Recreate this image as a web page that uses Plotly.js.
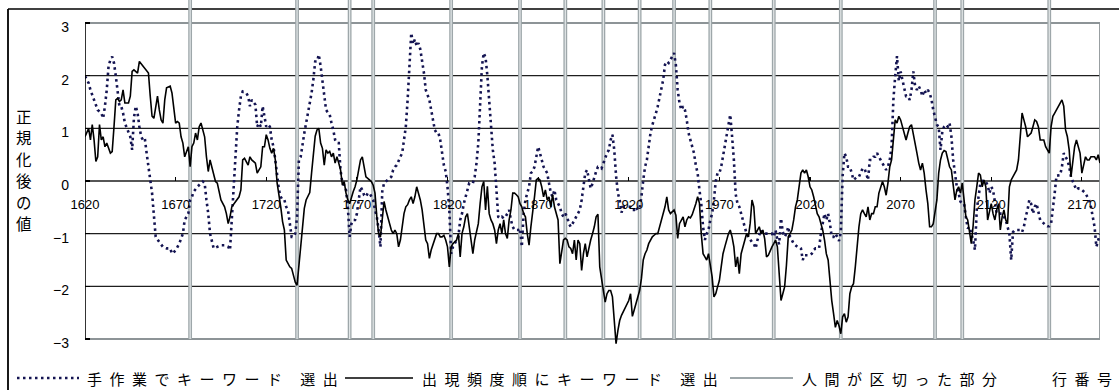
<!DOCTYPE html>
<html>
<head>
<meta charset="utf-8">
<script src="https://cdn.plot.ly/plotly-3.0.1.min.js"></script>
<style>
  html, body { margin: 0; padding: 0; background: #ffffff; }
  #chart { width: 1119px; height: 390px; }
</style>
</head>
<body>
<div id="chart"></div>
<script>
// Row numbers (x) and normalised scores (y) for each keyword-selection method
const freqRows = [1620,1622,1623,1624,1625,1626,1627,1628,1629,1630,1631,1632,1634,1635,1636,1637,1638,1639,1640,1641,1642,1644,1645,1646,1647,1649,1650,1652,1654,1655,1656,1657,1658,1659,1660,1661,1662,1663,1664,1665,1667,1668,1669,1670,1671,1672,1673,1674,1675,1676,1677,1678,1679,1680,1681,1682,1683,1684,1686,1687,1688,1689,1690,1691,1692,1693,1694,1695,1697,1698,1699,1700,1701,1703,1704,1705,1706,1707,1708,1710,1711,1712,1714,1715,1716,1717,1718,1719,1720,1721,1722,1723,1724,1725,1726,1727,1728,1729,1730,1731,1732,1733,1734,1735,1736,1737,1738,1739,1740,1741,1742,1744,1745,1746,1747,1748,1749,1750,1751,1752,1753,1754,1755,1756,1757,1758,1759,1760,1761,1762,1763,1764,1765,1766,1767,1768,1769,1770,1771,1772,1773,1774,1775,1776,1777,1778,1779,1780,1781,1782,1783,1784,1785,1786,1787,1788,1789,1790,1791,1792,1793,1794,1795,1796,1797,1798,1799,1800,1801,1802,1803,1804,1805,1806,1807,1808,1809,1810,1811,1812,1813,1814,1815,1816,1817,1818,1819,1820,1821,1822,1823,1824,1825,1826,1827,1828,1829,1830,1831,1832,1833,1834,1835,1836,1837,1838,1839,1840,1841,1842,1843,1844,1845,1846,1847,1848,1849,1850,1851,1852,1853,1854,1855,1856,1857,1858,1859,1860,1861,1862,1863,1864,1865,1866,1867,1868,1869,1870,1871,1872,1873,1874,1875,1876,1877,1878,1879,1880,1881,1882,1883,1884,1885,1886,1887,1888,1889,1890,1891,1892,1893,1894,1895,1896,1897,1898,1899,1900,1901,1902,1903,1904,1905,1906,1907,1908,1909,1910,1911,1912,1913,1914,1915,1916,1917,1918,1919,1920,1921,1922,1923,1924,1925,1926,1927,1928,1929,1930,1931,1932,1933,1934,1935,1936,1937,1938,1939,1940,1941,1942,1943,1944,1945,1946,1947,1948,1949,1950,1951,1952,1953,1954,1955,1956,1957,1958,1959,1960,1961,1962,1963,1964,1965,1966,1967,1968,1969,1970,1971,1972,1973,1974,1975,1976,1977,1978,1979,1980,1981,1982,1983,1984,1985,1986,1987,1988,1989,1990,1991,1992,1993,1994,1995,1996,1997,1998,1999,2000,2001,2002,2003,2004,2005,2006,2007,2008,2009,2010,2011,2012,2013,2014,2015,2016,2017,2018,2019,2020,2021,2022,2023,2024,2025,2026,2027,2028,2029,2030,2031,2032,2033,2034,2035,2036,2037,2038,2039,2040,2041,2042,2043,2044,2045,2046,2047,2048,2049,2050,2051,2052,2053,2054,2055,2056,2057,2058,2059,2060,2061,2062,2063,2064,2065,2066,2067,2068,2069,2070,2071,2072,2073,2074,2075,2076,2077,2078,2079,2080,2081,2082,2083,2084,2085,2086,2087,2088,2089,2090,2091,2092,2093,2094,2095,2096,2097,2098,2099,2100,2101,2102,2103,2104,2105,2106,2107,2108,2109,2110,2111,2112,2113,2114,2115,2116,2117,2118,2119,2120,2121,2122,2123,2124,2125,2126,2127,2128,2129,2130,2131,2132,2133,2134,2135,2136,2137,2138,2139,2140,2141,2142,2143,2144,2145,2146,2147,2148,2149,2150,2151,2152,2153,2154,2155,2156,2157,2158,2159,2160,2161,2162,2163,2164,2165,2166,2167,2168,2169,2170,2171,2172,2173,2174,2175,2176,2177,2178,2179,2180];
const freqValues = [0.84,1.00,0.78,1.07,0.78,0.37,0.46,1.07,0.78,0.84,0.65,0.72,0.53,0.56,1.03,1.54,1.57,1.51,1.54,1.73,1.48,1.48,1.61,2.08,2.11,2.05,2.27,2.18,2.11,2.05,1.61,1.23,1.19,1.42,1.61,1.35,1.16,1.10,1.54,1.77,1.80,1.67,1.35,1.10,1.13,1.10,0.84,0.72,0.46,0.56,0.65,0.27,0.65,0.72,0.91,0.78,1.03,1.10,0.84,0.46,0.18,0.40,0.27,0.15,-0.01,-0.04,-0.23,-0.36,-0.49,-0.62,-0.81,-0.68,-0.49,-0.39,-0.36,-0.30,-0.17,0.40,0.43,0.30,0.46,0.40,0.34,0.15,0.21,0.27,0.65,0.65,0.88,0.78,0.62,0.53,0.62,0.40,-0.04,-0.23,-0.49,-0.77,-0.93,-1.50,-1.57,-1.63,-1.66,-1.79,-1.92,-1.98,-1.63,-1.31,-0.84,-0.52,-0.36,-0.22,0.15,0.46,0.85,0.97,1.00,0.72,0.62,0.30,0.59,0.53,0.56,0.46,0.53,0.34,0.46,0.34,0.21,-0.08,-0.01,-0.23,-0.36,-0.43,-0.30,-0.20,-0.11,0.02,0.21,0.40,0.46,0.27,0.08,0.05,0.02,-0.01,-0.08,-0.23,-0.68,-1.00,-1.06,-0.65,-0.39,-0.55,-0.68,-0.81,-0.93,-1.00,-0.93,-1.00,-1.25,-1.12,-0.81,-0.62,-0.49,-0.45,-0.36,-0.30,-0.43,-0.30,-0.11,-0.23,-0.36,-0.55,-0.87,-1.12,-1.19,-1.47,-1.31,-1.19,-1.12,-1.00,-1.00,-1.06,-1.06,-1.03,-1.12,-1.25,-1.63,-1.25,-1.19,-1.16,-1.12,-1.00,-1.44,-1.00,-0.87,-0.68,-0.62,-0.87,-1.12,-1.38,-1.12,-0.93,-0.81,-0.43,-0.11,-0.01,-0.55,-0.10,-0.62,-0.74,-0.81,-0.93,-1.19,-0.93,-0.81,-1.00,-0.74,-1.00,-1.09,-0.74,-0.55,-0.23,-0.23,-0.26,-0.30,-0.43,-0.49,-0.62,-0.68,-1.00,-1.22,-0.87,-0.62,-0.30,0.02,0.05,0.02,-0.11,-0.30,-0.17,-0.36,-0.30,-0.49,-0.26,-0.49,-0.62,-0.74,-1.57,-1.38,-1.12,-1.09,-1.12,-1.25,-1.28,-1.38,-1.12,-1.50,-1.12,-1.19,-1.70,-1.38,-1.19,-1.44,-1.25,-1.12,-1.00,-0.87,-0.68,-0.63,-1.63,-1.82,-2.08,-2.30,-2.14,-2.08,-2.08,-2.20,-2.60,-3.09,-2.84,-2.65,-2.55,-2.48,-2.44,-2.37,-2.27,-2.14,-2.57,-2.45,-2.33,-2.20,-2.08,-1.85,-1.50,-1.38,-1.31,-1.19,-1.12,-1.06,-1.03,-1.00,-1.00,-0.87,-0.74,-0.62,-0.49,-0.30,-0.55,-0.62,-0.58,-0.55,-0.65,-1.09,-0.81,-0.74,-0.68,-0.87,-0.74,-0.68,-0.70,-0.64,-0.55,-0.43,-0.30,-0.42,-1.00,-1.38,-1.44,-1.50,-1.38,-1.57,-1.82,-2.20,-2.14,-2.01,-1.89,-1.63,-1.38,-1.25,-1.12,-1.00,-0.93,-1.06,-1.25,-1.63,-1.44,-1.76,-1.38,-1.25,-1.12,-1.00,-1.06,-0.80,-0.36,-0.49,-1.00,-0.93,-0.87,-1.00,-0.93,-1.10,-1.44,-1.41,-1.31,-1.25,-1.19,-1.12,-1.25,-1.82,-2.27,-2.14,-2.01,-1.60,-1.06,-1.00,-0.93,-0.74,-0.49,-0.36,-0.05,0.15,0.21,0.15,0.21,0.08,-0.11,-0.17,-0.30,-0.49,-0.62,-0.68,-0.80,-0.93,-1.12,-1.38,-1.50,-1.95,-2.27,-2.52,-2.78,-2.65,-2.75,-2.90,-2.58,-2.52,-2.68,-2.58,-2.14,-2.01,-1.95,-1.63,-1.19,-0.87,-0.62,-0.55,-0.62,-0.68,-0.49,-0.74,-0.62,-0.62,-0.49,-0.49,-0.23,-0.11,-0.01,-0.11,-0.27,-0.04,0.27,0.40,0.78,1.16,1.10,1.23,1.16,1.03,0.90,0.78,0.91,1.03,1.07,0.91,0.72,0.53,0.34,0.21,0.34,0.15,-0.17,-0.43,-0.87,-0.87,-0.81,-0.55,-0.36,0.15,0.40,0.53,0.58,0.56,0.40,0.27,0.21,-0.04,-0.36,-0.17,-0.11,-0.23,-0.04,-0.36,-0.68,-0.74,-0.95,-1.19,-0.85,-0.36,-0.11,0.15,0.11,-0.11,0.02,-0.11,-0.74,-0.55,-0.43,-0.62,-0.74,-0.55,-0.43,-0.93,-0.68,-0.55,-0.74,-0.81,-0.11,0.02,0.08,0.15,0.21,0.40,0.90,1.29,1.16,1.03,0.84,0.88,0.91,1.03,1.16,1.13,1.03,0.78,0.78,0.78,0.65,0.59,0.53,1.03,1.23,1.29,1.35,1.42,1.48,1.54,1.42,0.97,0.84,0.59,0.08,0.40,0.65,0.78,0.65,0.53,0.15,0.34,0.46,0.40,0.40,0.46,0.46,0.46,0.40,0.50,0.34];

const manualRows = [1620,1622,1623,1625,1627,1629,1630,1631,1632,1633,1634,1635,1636,1637,1638,1639,1640,1641,1642,1644,1645,1646,1647,1648,1649,1650,1651,1652,1653,1654,1655,1656,1657,1658,1659,1661,1663,1665,1667,1668,1670,1672,1674,1675,1677,1678,1679,1680,1682,1685,1686,1687,1688,1689,1690,1691,1693,1695,1697,1699,1700,1701,1702,1703,1704,1705,1706,1707,1709,1710,1711,1712,1714,1715,1716,1717,1718,1719,1720,1721,1722,1723,1724,1725,1726,1727,1728,1729,1730,1731,1732,1733,1734,1735,1736,1737,1738,1739,1740,1741,1742,1743,1744,1745,1746,1747,1748,1749,1750,1751,1752,1753,1754,1755,1756,1757,1758,1759,1760,1761,1762,1763,1764,1765,1766,1767,1768,1769,1770,1771,1772,1773,1774,1775,1776,1777,1778,1779,1780,1781,1782,1783,1784,1785,1786,1787,1788,1789,1790,1791,1792,1793,1794,1795,1796,1797,1798,1799,1800,1801,1802,1803,1804,1805,1806,1807,1808,1809,1810,1811,1812,1813,1814,1815,1816,1817,1818,1819,1820,1821,1822,1823,1824,1825,1826,1827,1828,1829,1830,1831,1832,1833,1834,1835,1836,1837,1838,1839,1840,1841,1842,1843,1844,1845,1846,1847,1848,1849,1850,1851,1852,1853,1854,1855,1856,1857,1858,1859,1860,1861,1862,1863,1864,1865,1866,1867,1868,1869,1870,1871,1872,1873,1874,1875,1876,1877,1878,1879,1880,1881,1882,1883,1884,1885,1886,1887,1888,1889,1890,1891,1892,1893,1894,1895,1896,1897,1898,1899,1900,1901,1902,1903,1904,1905,1906,1907,1908,1909,1910,1911,1912,1913,1914,1915,1916,1917,1918,1919,1920,1921,1922,1923,1924,1925,1926,1927,1928,1929,1930,1931,1932,1933,1934,1935,1936,1937,1938,1939,1940,1941,1942,1943,1944,1945,1946,1947,1948,1949,1950,1951,1952,1953,1954,1955,1956,1957,1958,1959,1960,1961,1962,1963,1964,1965,1966,1967,1968,1969,1970,1971,1972,1973,1974,1975,1976,1977,1978,1979,1980,1981,1982,1983,1984,1985,1986,1987,1988,1989,1990,1991,1992,1993,1994,1995,1996,1997,1998,1999,2000,2001,2002,2003,2004,2005,2006,2007,2008,2009,2010,2011,2012,2013,2014,2015,2016,2017,2018,2019,2020,2021,2022,2023,2024,2025,2026,2027,2028,2029,2030,2031,2032,2033,2034,2035,2036,2037,2038,2039,2040,2041,2042,2043,2044,2045,2046,2047,2048,2049,2050,2051,2052,2053,2054,2055,2056,2057,2058,2059,2060,2061,2062,2063,2064,2065,2066,2067,2068,2069,2070,2071,2072,2073,2074,2075,2076,2077,2078,2079,2080,2081,2082,2083,2084,2085,2086,2087,2088,2089,2090,2091,2092,2093,2094,2095,2096,2097,2098,2099,2100,2101,2102,2103,2104,2105,2106,2107,2108,2109,2110,2111,2112,2113,2114,2115,2116,2117,2118,2119,2120,2121,2122,2123,2124,2125,2126,2127,2128,2129,2130,2131,2132,2133,2134,2135,2136,2137,2138,2139,2140,2141,2142,2143,2144,2145,2146,2147,2148,2149,2150,2151,2152,2153,2154,2155,2156,2157,2158,2159,2160,2161,2162,2163,2164,2165,2166,2167,2168,2169,2170,2171,2172,2173,2174,2175,2176,2177,2178,2179,2180];
const manualValues = [1.99,1.86,1.73,1.54,1.35,1.29,1.19,1.42,1.73,2.18,2.30,2.36,2.24,1.99,1.73,1.42,1.42,1.29,1.10,0.91,0.84,0.59,1.20,1.42,1.29,1.03,0.84,0.78,0.81,0.53,0.27,0.02,-0.23,-0.65,-1.06,-1.16,-1.25,-1.28,-1.28,-1.38,-1.32,-1.19,-1.00,-0.74,-0.62,-0.36,-0.30,-0.20,-0.11,-0.01,-0.04,-0.36,-0.62,-1.00,-1.12,-1.28,-1.25,-1.22,-1.22,-1.25,-1.31,-0.68,-0.04,0.59,1.03,1.35,1.61,1.70,1.67,1.61,1.42,1.54,1.45,1.03,1.10,1.03,1.42,1.23,1.03,1.07,1.03,0.78,0.65,0.40,0.15,-0.17,-0.30,-0.36,-0.36,-0.49,-0.55,-0.87,-1.06,-1.06,-1.00,-0.68,0.40,0.46,0.72,0.91,1.10,1.29,1.42,1.67,1.93,2.27,2.27,2.40,2.18,1.86,1.61,1.35,1.30,1.26,1.10,0.97,0.78,0.72,0.72,0.20,-0.04,-0.08,-0.17,-0.49,-1.06,-0.81,-0.74,-0.74,-0.62,-0.36,-0.11,-0.17,-0.27,-0.30,-0.23,-0.23,-0.30,-0.36,-0.55,-0.68,-0.93,-1.25,-0.20,-0.04,-0.01,0.02,0.05,0.08,0.21,0.27,0.30,0.40,0.46,0.53,0.80,1.03,1.54,2.30,2.81,2.60,2.69,2.56,2.62,2.50,2.30,2.05,1.73,1.61,1.54,1.35,1.16,0.97,0.91,0.91,0.78,0.53,0.30,0.18,-0.11,-0.55,-1.38,-1.25,-1.19,-1.12,-1.06,-0.74,-0.62,-0.43,-0.30,-0.17,-0.04,-0.04,-0.04,0.08,0.34,0.72,1.45,2.18,2.43,2.34,2.00,1.50,0.91,0.59,0.34,-0.23,-0.68,-0.71,-0.68,-0.71,-0.68,-0.62,-0.55,-0.74,-0.87,-0.93,-0.93,-0.93,-0.90,-1.25,-0.62,-0.36,-0.23,-0.11,0.15,0.18,0.27,0.46,0.65,0.53,0.40,0.27,0.21,0.15,-0.04,-0.23,-0.30,-0.17,-0.36,-0.43,-0.49,-0.62,-0.68,-0.62,-0.68,-0.81,-0.87,-0.81,-0.74,-0.70,-0.62,-0.55,-0.36,-0.11,0.15,0.21,0.02,-0.14,-0.05,0.08,0.18,0.27,0.27,0.24,0.34,0.40,0.53,0.59,0.78,0.88,0.59,0.10,-0.23,-0.36,-0.60,-0.49,-0.49,-0.49,-0.49,-0.49,-0.55,-0.55,-0.49,-0.55,-0.52,-0.30,0.02,0.27,0.40,0.72,0.91,1.06,1.16,1.29,1.42,1.61,1.73,1.92,2.21,2.27,2.24,2.30,2.37,2.43,2.20,1.73,1.48,1.35,1.42,1.35,1.16,0.91,0.78,0.65,0.53,0.30,0.15,-0.17,-0.43,-0.87,-1.12,-1.00,-0.93,-0.74,-0.62,-0.36,0.00,0.15,0.15,0.27,0.46,0.72,0.84,1.03,1.26,0.85,0.40,-0.25,-0.43,-0.49,-0.62,-0.74,-0.87,-1.00,-1.06,-1.12,-1.16,-1.19,-1.28,-1.12,-1.00,-0.93,-1.00,-1.00,-1.00,-1.00,-1.00,-1.00,-1.06,-0.93,-1.12,-1.20,-0.71,-0.97,-1.06,-1.00,-0.87,-1.06,-1.12,-1.19,-1.22,-1.25,-1.25,-1.28,-1.50,-1.41,-1.41,-1.41,-1.41,-1.38,-1.31,-1.28,-1.28,-1.28,-1.00,-0.81,-0.62,-0.74,-0.62,-0.81,-1.06,-1.06,-1.00,-1.06,-1.14,-0.97,0.10,0.53,0.46,0.27,0.27,0.15,0.02,0.05,0.08,0.08,0.15,0.24,0.24,0.15,0.02,0.40,0.40,0.46,0.46,0.53,0.46,0.40,0.34,0.27,0.21,0.27,0.40,0.65,1.54,1.99,2.37,1.90,2.08,1.92,1.73,1.61,1.61,1.54,1.73,2.08,1.80,1.73,1.80,1.73,1.61,1.73,1.67,1.73,1.67,1.55,1.35,1.23,1.07,1.03,0.59,0.94,1.03,1.07,1.03,1.10,0.85,0.40,0.10,-0.11,-0.23,-0.39,-0.43,-0.43,-0.68,-0.90,-0.87,-1.00,-1.12,-1.31,-0.55,-0.30,-0.04,-0.01,0.02,-0.01,-0.08,-0.23,-0.11,-0.17,-0.36,-0.62,-0.62,-0.62,-0.62,-0.68,-0.74,-0.87,-1.00,-1.50,-0.97,-0.93,-0.93,-0.93,-0.93,-0.97,-0.87,-0.68,-0.55,-0.36,-0.43,-0.62,-0.49,-0.43,-0.62,-0.74,-0.77,-0.81,-0.84,-0.86,-0.86,-0.81,-0.55,-0.23,0.10,0.11,0.11,0.27,0.53,0.46,0.40,0.27,0.08,-0.01,-0.11,-0.17,-0.14,-0.14,-0.17,-0.20,-0.23,-0.30,-0.36,-0.49,-0.70,-0.87,-1.25,-1.12,-1.00,-1.00];

// Rows where a human reader placed a section break
const splitRows = [1678,1737,1766,1779,1822,1860,1885,1906,1926,1945,1965,2000,2037,2089,2104,2152];

const xTickRows = [1620,1670,1720,1770,1820,1870,1920,1970,2020,2070,2120,2170];
const yTicks = [-3,-2,-1,0,1,2,3];
const seriesNames = ['手作業でキーワード 選出','出現頻度順にキーワード 選出','人間が区切った部分'];
const xTitle = '行番号';
const yTitle = '正規化後の値';

// Layout geometry (pixels)
const W = 1119, H = 390;
const M = { l: 85, r: 19, t: 0, b: 38 };
const plotW = W - M.l - M.r, plotH = H - M.t - M.b;
const xRange = [1620, 2180];
const yRange = [-3.247, 3.437];
const px2paperX = px => (px - M.l) / plotW;
const px2paperY = py => 1 - (py - M.t) / plotH;

// Vertical rules for section breaks
const ruleX = [], ruleY = [];
splitRows.forEach(r => { ruleX.push(r, r, null); ruleY.push(-3, yRange[1], null); });

const manualColor = '#141452';
const ruleColor = '#9ea7aa';

const traces = [
  { x: ruleX, y: ruleY, mode: 'lines', line: { color: ruleColor, width: 3.8 }, hoverinfo: 'skip', showlegend: false },
  { x: ruleX, y: ruleY, mode: 'lines', line: { color: '#e4e8e9', width: 1.2 }, hoverinfo: 'skip', showlegend: false },
  { x: manualRows, y: manualValues, name: seriesNames[0], mode: 'lines',
    line: { color: manualColor, width: 2.6, dash: '2.5px,3.5px' }, showlegend: false },
  { x: freqRows, y: freqValues, name: seriesNames[1], mode: 'lines',
    line: { color: '#000000', width: 1.6 }, showlegend: false }
];

// Frame, grid and axis rules
const shapes = [];
const outerX = px2paperX(8), outerTop = px2paperY(9);
shapes.push({ type: 'line', xref: 'paper', yref: 'paper', x0: outerX, x1: 1.05, y0: outerTop, y1: outerTop,
  line: { color: '#000', width: 1.6 }, layer: 'below' });
shapes.push({ type: 'line', xref: 'paper', yref: 'paper', x0: outerX, x1: outerX, y0: outerTop, y1: -0.2,
  line: { color: '#000', width: 1.8 }, layer: 'below' });
[-2, -1, 0, 1, 2].forEach(v => shapes.push({ type: 'line', xref: 'x', yref: 'y', x0: xRange[0], x1: xRange[1], y0: v, y1: v,
  line: { color: '#1e1e1e', width: 1.3 }, layer: 'below' }));
[-3, 3].forEach(v => shapes.push({ type: 'line', xref: 'x', yref: 'y', x0: xRange[0], x1: xRange[1], y0: v, y1: v,
  line: { color: '#8d9497', width: 1.8 }, layer: 'below' }));
shapes.push({ type: 'line', xref: 'x', yref: 'y', x0: xRange[1], x1: xRange[1], y0: -3, y1: 3,
  line: { color: '#8d9497', width: 1.8 }, layer: 'below' });
shapes.push({ type: 'line', xref: 'x', yref: 'y', x0: xRange[0], x1: xRange[0], y0: -3, y1: 3,
  line: { color: '#000', width: 1.6 }, layer: 'above' });

// Legend keys
const legendY = px2paperY(378);
shapes.push({ type: 'line', xref: 'paper', yref: 'paper', x0: px2paperX(17), x1: px2paperX(79), y0: legendY, y1: legendY,
  line: { color: manualColor, width: 2.6, dash: '2.5px,3.5px' } });
shapes.push({ type: 'line', xref: 'paper', yref: 'paper', x0: px2paperX(345), x1: px2paperX(413), y0: legendY, y1: legendY,
  line: { color: '#000', width: 1.6 } });
shapes.push({ type: 'line', xref: 'paper', yref: 'paper', x0: px2paperX(730), x1: px2paperX(793), y0: legendY, y1: legendY,
  line: { color: ruleColor, width: 1.8 } });

const spaced = s => Array.from(s).join('\u2002');
const cjk = 'Noto Sans CJK JP, sans-serif';
const annotations = [];
[[85, seriesNames[0]], [420, seriesNames[1]], [800, seriesNames[2]], [1050, xTitle]].forEach(([px, t]) => {
  annotations.push({ xref: 'paper', yref: 'paper', x: px2paperX(px), y: legendY, xanchor: 'left', yanchor: 'middle',
    text: spaced(t), showarrow: false, font: { family: cjk, size: 15, color: '#000' } });
});
// Vertical axis title, one character per row
Array.from(yTitle).forEach((ch, i) => {
  annotations.push({ xref: 'paper', yref: 'paper', x: px2paperX(24), y: px2paperY(116 + i * 21.4),
    xanchor: 'center', yanchor: 'middle', text: ch, showarrow: false,
    font: { family: cjk, size: 15.5, color: '#000' } });
});

const layout = {
  width: W, height: H, margin: M,
  paper_bgcolor: '#ffffff', plot_bgcolor: 'rgba(0,0,0,0)',
  showlegend: false,
  font: { family: 'Liberation Sans, Arial, sans-serif', size: 13, color: '#000' },
  xaxis: {
    range: xRange, anchor: 'free', position: (0 - yRange[0]) / (yRange[1] - yRange[0]),
    tickmode: 'array', tickvals: xTickRows, ticktext: xTickRows.map(String),
    ticks: 'inside', ticklen: 4, tickwidth: 1.2, tickcolor: '#000',
    showgrid: false, zeroline: false, showline: false,
    ticklabelstandoff: 14,
    tickfont: { family: 'Liberation Sans, Arial, sans-serif', size: 13, color: '#000' }
  },
  yaxis: {
    range: yRange, tickmode: 'array', tickvals: yTicks,
    ticks: 'inside', ticklen: 5, tickwidth: 1.2, tickcolor: '#000',
    showgrid: false, zeroline: false, showline: false,
    ticklabelstandoff: 15, ticklabelshift: 4,
    tickfont: { family: 'Liberation Sans, Arial, sans-serif', size: 14, color: '#000' }
  },
  shapes: shapes,
  annotations: annotations
};

Plotly.newPlot('chart', traces, layout, { staticPlot: true, displayModeBar: false });
</script>
</body>
</html>
